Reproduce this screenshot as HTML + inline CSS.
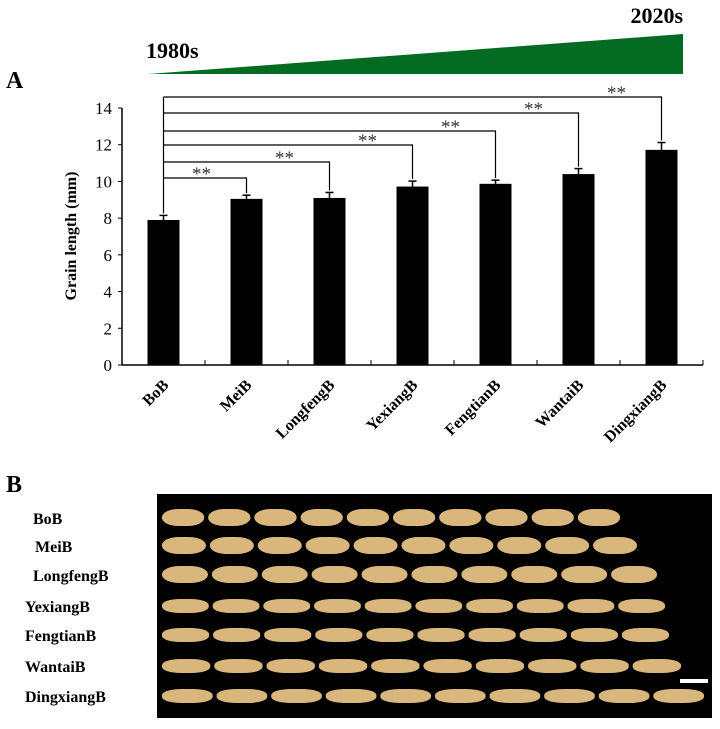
<!DOCTYPE html>
<html><head><meta charset="utf-8"><style>
body{margin:0;background:#fff;width:720px;height:724px;overflow:hidden;font-family:"Liberation Serif",serif}
svg text{font-family:"Liberation Serif",serif}
</style></head><body>
<svg width="720" height="724" id="fig">
<polygon points="148,74 683,34 683,74" fill="#046b22"/>
<text x="146" y="58" font-size="22" font-weight="bold">1980s</text>
<text x="683" y="23" font-size="22" font-weight="bold" text-anchor="end">2020s</text>
<text x="6" y="88" font-size="24" font-weight="bold">A</text>
<text transform="translate(76,236) rotate(-90)" font-size="16" font-weight="bold" text-anchor="middle">Grain length (mm)</text>
<g id="chart"></g>
<text x="6" y="492" font-size="24" font-weight="bold">B</text>
<rect x="157" y="494" width="555" height="224" fill="#000"/>
<g id="grains"></g>
<rect x="680" y="679" width="28" height="4" fill="#fff"/>
</svg>
<script>
const categories=["BoB","MeiB","LongfengB","YexiangB","FengtianB","WantaiB","DingxiangB"];
const values=[7.9,9.05,9.1,9.72,9.87,10.4,11.72];
const errors=[0.25,0.2,0.3,0.3,0.2,0.3,0.4];
const yTicks=[0,2,4,6,8,10,12,14];
const sigLabels=["**","**","**","**","**","**"];
const rowEnds=[624,641,661,669,673,685,708];
const NS="http://www.w3.org/2000/svg";
const g=document.getElementById('chart');
const x0=122,x1=703,slot=(x1-x0)/categories.length;
const y=v=>365-v*(257/14);
const xc=i=>x0+slot*(i+0.5);
function mk(t,a,p){const e=document.createElementNS(NS,t);for(const k in a)e.setAttribute(k,a[k]);(p||g).appendChild(e);return e;}
let e=mk('line',{x1:x0,y1:y(0),x2:x1,y2:y(0),stroke:'#000','stroke-width':1.5});

e=mk('line',{x1:x0,y1:y(0),x2:x0,y2:y(14),stroke:'#000','stroke-width':1.5});

yTicks.forEach(t=>{
 mk('line',{x1:x0-4,y1:y(t),x2:x0,y2:y(t),stroke:'#000'});
 const tx=mk('text',{x:x0-10,y:y(t)+6,'font-size':17,'text-anchor':'end'});tx.textContent=t;
 
 
});
for(let i=0;i<=categories.length;i++)mk('line',{x1:x0+slot*i,y1:y(0),x2:x0+slot*i,y2:y(0)-5,stroke:'#000'});
categories.forEach((c,i)=>{
 const b=mk('rect',{x:xc(i)-16,y:y(values[i]),width:32,height:y(0)-y(values[i]),fill:'#000'});
 
 
 const et=y(values[i]+errors[i]);
 mk('line',{x1:xc(i),y1:y(values[i]),x2:xc(i),y2:et,stroke:'#000','stroke-width':1.5});
 mk('line',{x1:xc(i)-4,y1:et,x2:xc(i)+4,y2:et,stroke:'#000','stroke-width':1.5});
 const t=mk('text',{transform:`translate(${xc(i)+6},386) rotate(-45)`,'font-size':16,'font-weight':'bold','text-anchor':'end'});
 t.textContent=c;
 
 
});
const topLines=[178,162,145,131,113,97];
const bx=xc(0);
mk('line',{x1:bx,y1:y(values[0]+errors[0])-2,x2:bx,y2:topLines[5],stroke:'#000','stroke-width':1.2});
sigLabels.forEach((s,k)=>{
 const i=k+1,ly=topLines[k];
 const br=mk('polyline',{points:`${bx},${ly} ${xc(i)},${ly} ${xc(i)},${y(values[i]+errors[i])-2}`,fill:'none',stroke:'#000','stroke-width':1.2});
 
 
 const t=mk('text',{x:xc(i)-45,y:ly+2,'font-size':19,'text-anchor':'middle',fill:'#333'});
 t.textContent=s;
 
 
});
// panel B
const gg=document.getElementById('grains');
const rowY=[518,546,575,606,635,666,696];
categories.forEach((c,r)=>{
 const t=mk('text',{x:[33,35,33,25,25,25,25][r],y:rowY[r]+6,'font-size':16,'font-weight':'bold'},gg);
 t.textContent=c;
 
 
 const w=(rowEnds[r]-162)/10;
 for(let k=0;k<10;k++){
  const el=mk('rect',{x:162+w*k,y:rowY[r]-(r<3?9:7),width:w-4,height:r<3?17:14,rx:(w-4)/2.6,ry:r<3?8:6,fill:'#d8b67c'},gg);
  
  
 }
});
</script>
</body></html>
